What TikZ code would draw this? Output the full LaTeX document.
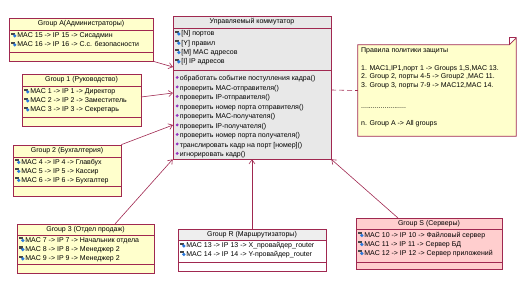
\documentclass[tikz,border=0pt]{standalone}
\usepackage{fontspec}
\setmainfont{Liberation Sans}
\usetikzlibrary{arrows.meta,fit,calc}
\definecolor{bord}{RGB}{160,40,80}
\definecolor{ylw}{RGB}{255,255,204}
\definecolor{gry}{RGB}{232,232,232}
\definecolor{gryR}{RGB}{238,238,238}
\definecolor{pnk}{RGB}{255,206,206}
\definecolor{icblue}{RGB}{40,120,220}
\definecolor{icpurp}{RGB}{150,50,190}
\newcommand\aic{\tikz[x=1pt,y=1pt,baseline=0pt]{\fill[gray!55!black] (0,3) rectangle (3.5,5.2);\fill[icblue] (3.6,2) circle (1.8);\path (0,0) rectangle (6.2,1);}}
\newcommand\mic{\tikz[x=1pt,y=1pt,baseline=0pt]{\fill[icpurp] (2,1.8)--(3.6,3.4)--(2,5)--(0.4,3.4)--cycle;\path (0,0) rectangle (4.6,1);}}
\newcommand\umlbox[8]{%
  \node[cls, fill=#8, fit={(#2,#3)(#4,#5)}] (#1) {};
  \draw[bord, line width=0.7pt] (#2,#6) -- (#4,#6) (#2,#7) -- (#4,#7);
}
\begin{document}
\begin{tikzpicture}[x=1pt,y=-1pt,
  cls/.style={draw=bord,line width=0.7pt,inner sep=0pt},
  txt/.style={font=\fontsize{7}{9}\selectfont, inner sep=0pt, anchor=north west, align=left},
  ttl/.style={font=\fontsize{7}{8}\selectfont, inner sep=0pt},
  ntxt/.style={font=\fontsize{7}{8}\selectfont, inner sep=0pt, anchor=base west},
  conn/.style={draw=bord, line width=0.6pt, -{Straight Barb[length=4pt,width=6pt]}}]
\useasboundingbox (0,0) rectangle (529,288);

% main switch class
\umlbox{sw}{173}{16}{331}{159}{28}{70}{gry}
\node[ttl] (swt) at (252,22) {Управляемый коммутатор};
\node[txt, font=\fontsize{7}{9.3}\selectfont] (swa) at (175,30.5) {\aic[N] портов\\\aic[Y] правил\\\aic[M] MAC адресов\\\aic[I] IP адресов};
\node[txt, font=\fontsize{7}{9.5}\selectfont] (swm) at (175,75.5) {\mic обработать событие постулления кадра()\\\mic проверить MAC-отправителя()\\\mic проверить IP-отправителя()\\\mic проверить номер порта отправителя()\\\mic проверить MAC-получателя()\\\mic проверить IP-получателя()\\\mic проверить номер порта получателя()\\\mic транслировать кадр на порт [номер]()\\\mic игнорировать кадр()};

% Group A
\umlbox{gA}{9}{18}{153}{61}{30}{52}{ylw}
\node[ttl] (gAt) at (81,24) {Group A(Администраторы)};
\node[txt] (gAl) at (11,32.5) {\aic MAC 15 -> IP 15 -> Сисадмин\\\aic MAC 16 -> IP 16 -> С.с. безопасности};

% Group 1
\umlbox{g1}{22}{74}{141}{126}{86}{117}{ylw}
\node[ttl] (g1t) at (81.5,80) {Group 1 (Руководство)};
\node[txt] (g1l) at (24,88.5) {\aic MAC 1 -> IP 1 -> Директор\\\aic MAC 2 -> IP 2 -> Заместитель\\\aic MAC 3 -> IP 3 -> Секретарь};

% Group 2
\umlbox{g2}{13}{145}{121}{196}{157}{186}{ylw}
\node[ttl] (g2t) at (67,151) {Group 2 (Бухгалтерия)};
\node[txt] (g2l) at (15,159) {\aic MAC 4 -> IP 4 -> Главбух\\\aic MAC 5 -> IP 5 -> Кассир\\\aic MAC 6 -> IP 6 -> Бухгалтер};

% Group 3
\umlbox{g3}{17}{224}{154}{273}{235}{264}{ylw}
\node[ttl] (g3t) at (85.5,229.5) {Group 3 (Отдел продаж)};
\node[txt, font=\fontsize{7}{9.2}\selectfont] (g3l) at (19,237) {\aic MAC 7 -> IP 7 -> Начальник отдела\\\aic MAC 8 -> IP 8 -> Менеджер 2\\\aic MAC 9 -> IP 9 -> Менеджер 2};

% Group R
\umlbox{gR}{178}{229}{326}{271}{240}{262}{white}
\filldraw[fill=gryR, draw=bord, line width=0.7pt] (178,229) rectangle (326,240);
\node[ttl] (gRt) at (252,234.5) {Group R (Маршрутизаторы)};
\node[txt, font=\fontsize{7}{8.5}\selectfont] (gRl) at (180,242.5) {\aic MAC 13 -> IP 13 -> X\_провайдер\_router\\\aic MAC 14 -> IP 14 -> Y-провайдер\_router};

% Group S
\umlbox{gS}{356}{218}{502}{269}{229}{262}{pnk}
\node[ttl] (gSt) at (429,223.5) {Group S (Серверы)};
\node[txt] (gSl) at (358,232) {\aic MAC 10 -> IP 10 -> Файловый сервер\\\aic MAC 11 -> IP 11 -> Сервер БД\\\aic MAC 12 -> IP 12 -> Сервер приложений};

% note
\node[inner sep=0pt, fit={(358,45)(516,136)}] (note) {};
\filldraw[fill=ylw, draw=bord, line width=0.7pt] (note.north west) -- ($(note.north east)+(-7,0)$) -- ($(note.north east)+(0,-7)$) -- (note.south east) -- (note.south west) -- cycle;
\draw[bord, line width=0.6pt] ($(note.north east)+(-7,0)$) -- ($(note.north east)+(-7,-7)$) -- ($(note.north east)+(0,-7)$);
\node[ntxt] (n0) at (361,52.5) {Правила политики защиты};
\node[ntxt] (n1) at (361,70.5) {1. MAC1,IP1,порт 1 -> Groups 1,S,MAC 13.};
\node[ntxt] (n2) at (361,79) {2. Group 2, порты 4-5 -> Group2 ,MAC 11.};
\node[ntxt] (n3) at (361,87.5) {3. Group 3, порты 7-9 -> MAC12,MAC 14.};
\node[ntxt] (n4) at (361,109) {.......................};
\node[ntxt] (n5) at (361,125.5) {n. Group A -> All groups};

% connector ends
\coordinate (mA) at (173,67);
\coordinate (m1) at (173,93);
\coordinate (s1) at (141,97);
\coordinate (m2) at (173,125);
\coordinate (s3) at (115,224);
\coordinate (sS) at (398,218);
\coordinate (mN) at (331,90);

\draw[conn] (gA.south east) -- (mA);
\draw[conn] (s1) -- (m1);
\draw[conn] (g2.north east) -- (m2);
\draw[conn] (s3) -- (sw.south west);
\draw[conn] (gR.north) -- (sw.south);
\draw[conn] (sS) -- (sw.south east);
\draw[bord, line width=0.6pt, dash pattern=on 5pt off 3pt] (mN) -- (note.west);
\end{tikzpicture}
\end{document}
